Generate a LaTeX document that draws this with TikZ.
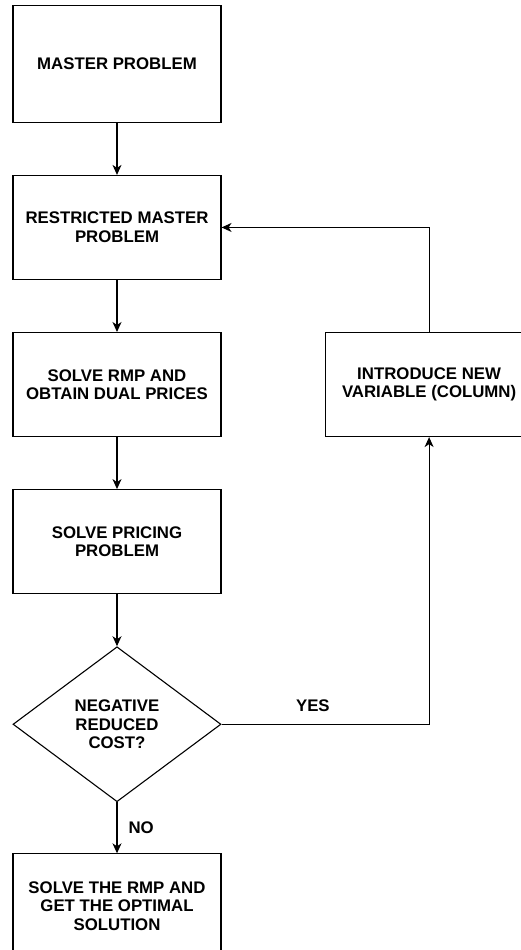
\documentclass[tikz,border=0pt]{standalone}
\usepackage{fontspec}
\setmainfont{Liberation Sans}
\usetikzlibrary{positioning, shapes.geometric, arrows.meta}

\begin{document}
\begin{tikzpicture}[x=1pt, y=1pt, node distance=52pt,
		every node/.style={font=\fontsize{16.8}{18.5}\selectfont\bfseries, align=center},
		stepbox/.style={draw, line width=1.1pt, minimum width=208pt, minimum height=104pt, inner sep=0pt},
		decision/.style={draw, diamond, line width=1.1pt, minimum width=208pt, minimum height=155pt, aspect=1.34, inner sep=0pt},
		flow/.style={line width=1.1pt, -{Stealth[length=10pt, width=9pt, inset=3pt]}},
		lbl/.style={inner sep=2pt}]
	\useasboundingbox (0,0) rectangle (521,-950);
	% Nodes for the main column
	\node (mp) [stepbox, minimum height=116.7pt] at (117,-64) {MASTER PROBLEM};
	\node (rmp) [stepbox, below=of mp] {RESTRICTED MASTER\\PROBLEM};
	\node (duals) [stepbox, below=of rmp] {SOLVE RMP AND\\OBTAIN DUAL PRICES};
	\node (pricing) [stepbox, below=of duals] {SOLVE PRICING\\PROBLEM};
	\node (check) [decision, below=of pricing] {NEGATIVE\\REDUCED\\COST?};
	\node (final) [stepbox, below=51pt of check] {SOLVE THE RMP AND\\GET THE OPTIMAL\\SOLUTION};
	% Node for the column generation loop
	\node (newcol) [stepbox, right=103pt of duals] {INTRODUCE NEW\\VARIABLE (COLUMN)};
	% Arrows for the main column
	\draw[flow] (mp) -- (rmp);
	\draw[flow] (rmp) -- (duals);
	\draw[flow] (duals) -- (pricing);
	\draw[flow] (pricing) -- (check);
	\draw[flow] (check) -- node[lbl, right=9pt] {NO} (final);
	% Arrows for the loop
	\draw[flow] (check.east) -- node[lbl, above=10pt, pos=0.44] {YES} (check.east -| newcol.south) -- (newcol.south);
	\draw[flow] (newcol.north) |- (rmp.east);
\end{tikzpicture}
\end{document}
